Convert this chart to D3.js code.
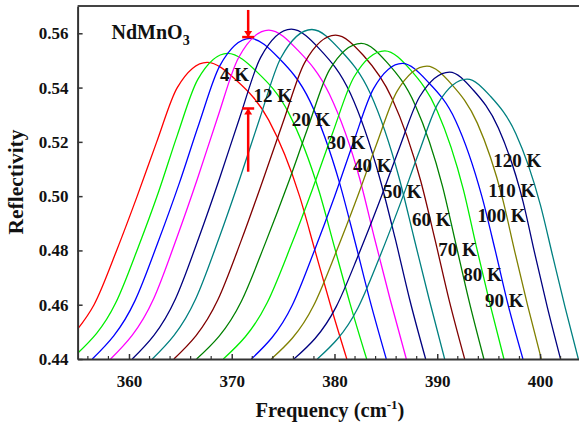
<!DOCTYPE html>
<html>
<head>
<meta charset="utf-8">
<script src="https://cdn.jsdelivr.net/npm/d3@7/dist/d3.min.js"></script>
<style>
  body { margin: 0; background: #fff; }
  svg { display: block; }
  text { font-family: "Liberation Serif", "Times New Roman", serif; font-weight: bold; fill: #111; }
</style>
</head>
<body>
<svg id="chart" width="579" height="427"></svg>
<script>
// temperature labels, one per curve
const temps = ['4 K', '12 K', '20 K', '30 K', '40 K', '50 K', '60 K', '70 K', '80 K', '90 K', '100 K', '110 K', '120 K'];

// [frequency (cm-1), reflectivity]
const s4K = [[355,0.451],[356.6,0.46],[358.8,0.48],[360.8,0.50],[362.7,0.52],[364.7,0.54],[367.6,0.5493],[370.5,0.5425],[373.6,0.528],[376.6,0.50],[378.1,0.48],[379.6,0.46],[381.2,0.44]];
const s12K = [[355,0.4421],[358.7,0.4606],[360.9,0.4812],[362.9,0.5018],[364.7,0.5224],[366.7,0.543],[369.6,0.5526],[372.5,0.5456],[375.55,0.5306],[378.5,0.5018],[380.0,0.4812],[381.5,0.4606],[383.13,0.44]];
const s20K = [[356.43,0.44],[360.6,0.4616],[362.84,0.4832],[364.9,0.5048],[366.8,0.5265],[368.85,0.5481],[371.8,0.5581],[374.6,0.5508],[377.6,0.5351],[380.5,0.5048],[382.0,0.4832],[383.45,0.4616],[385.04,0.44]];
const s30K = [[358.21,0.44],[362.4,0.4622],[364.63,0.4844],[366.67,0.5065],[368.6,0.5287],[370.65,0.5509],[373.6,0.5612],[376.45,0.5537],[379.5,0.5376],[382.45,0.5065],[383.9,0.4844],[385.4,0.4622],[386.99,0.44]];
const s40K = [[360.32,0.44],[364.53,0.4622],[366.78,0.4845],[368.83,0.5067],[370.77,0.5289],[372.83,0.5512],[375.8,0.5615],[378.6,0.554],[381.55,0.5378],[384.4,0.5067],[385.9,0.4845],[387.3,0.4622],[388.87,0.44]];
const s50K = [[362.27,0.44],[366.5,0.4622],[368.75,0.4844],[370.8,0.5066],[372.75,0.5289],[374.8,0.5511],[377.8,0.5614],[380.55,0.5539],[383.5,0.5377],[386.3,0.5066],[387.75,0.4844],[389.2,0.4622],[390.72,0.44]];
const s60K = [[364.37,0.44],[368.65,0.4618],[370.93,0.4837],[373.0,0.5055],[375.0,0.5273],[377.1,0.5492],[380.1,0.5593],[382.8,0.5519],[385.6,0.536],[388.4,0.5055],[389.8,0.4837],[391.15,0.4618],[392.67,0.44]];
const s70K = [[366.58,0.44],[370.94,0.4613],[373.26,0.4826],[375.4,0.5038],[377.4,0.5251],[379.5,0.5464],[382.6,0.5563],[385.15,0.5491],[387.85,0.5336],[390.5,0.5038],[391.8,0.4826],[393.1,0.4613],[394.54,0.44]];
const s80K = [[369.18,0.44],[373.46,0.4608],[375.74,0.4815],[377.83,0.5023],[379.8,0.5231],[381.9,0.5439],[384.9,0.5535],[387.4,0.5465],[390.0,0.5314],[392.55,0.5023],[393.8,0.4815],[395.1,0.4608],[396.49,0.44]];
const s90K = [[371.91,0.44],[375.9,0.4599],[378.04,0.4799],[380.0,0.4998],[381.83,0.5197],[383.8,0.5396],[386.6,0.5489],[389.1,0.5421],[391.8,0.5277],[394.35,0.4998],[395.65,0.4799],[396.9,0.4599],[398.34,0.44]];
const s100K = [[373.85,0.44],[377.97,0.4597],[380.17,0.4795],[382.18,0.4992],[384.08,0.519],[386.1,0.5387],[389.0,0.5479],[391.4,0.5412],[393.9,0.5269],[396.35,0.4992],[397.55,0.4795],[398.8,0.4597],[400.13,0.44]];
const s110K = [[376.05,0.44],[380.17,0.4593],[382.37,0.4787],[384.38,0.498],[386.28,0.5174],[388.3,0.5367],[391.2,0.5457],[393.5,0.5391],[395.95,0.5251],[398.35,0.498],[399.5,0.4787],[400.7,0.4593],[402.0,0.44]];
const s120K = [[378.33,0.44],[382.29,0.4589],[384.41,0.4777],[386.34,0.4966],[388.16,0.5155],[390.1,0.5343],[392.9,0.5431],[395.2,0.5367],[397.65,0.523],[400.05,0.4966],[401.25,0.4777],[402.45,0.4589],[403.73,0.44]];

// where each temperature label sits (data units)
const labelFreq = [368.86, 372.12, 375.84, 379.24, 381.8, 384.72, 387.54, 390.1, 392.54, 394.65, 393.92, 394.97, 395.46];
const labelRefl = [0.5424, 0.5347, 0.5258, 0.5173, 0.5089, 0.4993, 0.4890, 0.4780, 0.4687, 0.4593, 0.4905, 0.4998, 0.5108];

const xTicks = [360, 370, 380, 390, 400];
const xMinor = [356, 358, 362, 364, 366, 368, 372, 374, 376, 378, 382, 384, 386, 388, 392, 394, 396, 398, 402];
const yTicks = [0.44, 0.46, 0.48, 0.50, 0.52, 0.54, 0.56];

// red arrows marking the peak shift
const arrowFreq = 371.6;
const arrowDown = [0.5686, 0.5586];
const arrowUp = [0.509, 0.5323];

const series = [s4K, s12K, s20K, s30K, s40K, s50K, s60K, s70K, s80K, s90K, s100K, s110K, s120K];
const colors = ['#ff0000', '#00ee00', '#0000ff', '#ff00ff', '#000080', '#008080', '#800000',
                '#008000', '#00ee00', '#0000ff', '#808000', '#000080', '#008080'];

const svg = d3.select('#chart');
const margin = { top: 6, right: 0, bottom: 68, left: 77.6 };
const W = 579, H = 427;

const x = d3.scaleLinear().domain([355, 404]).range([77.6, 581.1]);
const y = d3.scaleLinear().domain([0.44, 0.57]).range([359, 6.15]);

svg.append('defs').append('clipPath').attr('id', 'plot')
  .append('rect').attr('x', 77.6).attr('y', 6).attr('width', W - 77.6).attr('height', 353);

// curves
const line = d3.line()
  .x(d => x(d[0]))
  .y(d => y(d[1]))
  .curve(d3.curveMonotoneX);

const curves = svg.append('g').attr('clip-path', 'url(#plot)');
series.forEach((s, i) => {
  curves.append('path')
    .datum(s)
    .attr('fill', 'none')
    .attr('stroke', colors[i])
    .attr('stroke-width', 1.3)
    .attr('d', line);
});

// top frame
svg.append('line')
  .attr('x1', 77.6).attr('x2', W).attr('y1', 6).attr('y2', 6)
  .attr('stroke', '#444').attr('stroke-width', 2);

// x axis
const xAxis = svg.append('g')
  .attr('transform', 'translate(0,359)')
  .call(d3.axisBottom(x).tickValues(xTicks).tickSize(-5).tickSizeOuter(0).tickPadding(16).tickFormat(d3.format('d')));
xAxis.select('.domain').attr('stroke', '#333').attr('stroke-width', 2);
xAxis.selectAll('.tick line').attr('stroke', '#333').attr('stroke-width', 1.5);
xAxis.selectAll('text').style('font-size', '17px').style('font-family', '"Liberation Serif", serif').style('font-weight', 'bold').attr('fill', '#111');

svg.append('g')
  .selectAll('line')
  .data(xMinor)
  .enter().append('line')
  .attr('x1', d => x(d)).attr('x2', d => x(d))
  .attr('y1', 359).attr('y2', 356)
  .attr('stroke', '#333').attr('stroke-width', 1.2);

// y axis
const yAxis = svg.append('g')
  .attr('transform', 'translate(77.6,0)')
  .call(d3.axisLeft(y).tickValues(yTicks).tickSize(-5).tickSizeOuter(0).tickPadding(9).tickFormat(d3.format('.2f')));
yAxis.select('.domain').attr('stroke', '#333').attr('stroke-width', 2);
yAxis.selectAll('.tick line').attr('stroke', '#333').attr('stroke-width', 1.5);
yAxis.selectAll('text').style('font-size', '17px').style('font-family', '"Liberation Serif", serif').style('font-weight', 'bold').attr('fill', '#111');

// axis titles
const xt = svg.append('text')
  .attr('x', 330).attr('y', 417)
  .attr('text-anchor', 'middle')
  .style('font-size', '20.5px');
xt.append('tspan').text('Frequency (cm');
xt.append('tspan').attr('dy', -8).style('font-size', '13px').text('-1');
xt.append('tspan').attr('dy', 8).text(')');

svg.append('text')
  .attr('transform', 'translate(23,182) rotate(-90)')
  .attr('text-anchor', 'middle')
  .style('font-size', '21.5px')
  .text('Reflectivity');

// compound name
const title = svg.append('text')
  .attr('x', 111.5).attr('y', 38.5)
  .style('font-size', '20px');
title.append('tspan').text('NdMnO');
title.append('tspan').attr('dy', 6).style('font-size', '14px').text('3');

// temperature labels
svg.append('g')
  .selectAll('text')
  .data(temps)
  .enter().append('text')
  .attr('x', (d, i) => x(labelFreq[i]))
  .attr('y', (d, i) => y(labelRefl[i]))
  .style('font-size', '19px')
  .text(d => d);

// arrows
const ax = x(arrowFreq);
const arrows = svg.append('g').attr('stroke', '#ff0000').attr('fill', '#ff0000');
arrows.append('line')
  .attr('x1', ax).attr('x2', ax).attr('y1', y(arrowDown[0])).attr('y2', y(arrowDown[1]))
  .attr('stroke-width', 2.5);
arrows.append('line')
  .attr('x1', ax - 6).attr('x2', ax + 6).attr('y1', y(arrowDown[1])).attr('y2', y(arrowDown[1]))
  .attr('stroke-width', 2.5);
arrows.append('path')
  .attr('stroke', 'none')
  .attr('d', `M${ax - 4},${y(arrowDown[1]) - 6}L${ax + 4},${y(arrowDown[1]) - 6}L${ax},${y(arrowDown[1])}Z`);

arrows.append('line')
  .attr('x1', ax).attr('x2', ax).attr('y1', y(arrowUp[0])).attr('y2', y(arrowUp[1]))
  .attr('stroke-width', 2.5);
arrows.append('line')
  .attr('x1', ax - 6).attr('x2', ax + 6).attr('y1', y(arrowUp[1])).attr('y2', y(arrowUp[1]))
  .attr('stroke-width', 2.5);
arrows.append('path')
  .attr('stroke', 'none')
  .attr('d', `M${ax - 4},${y(arrowUp[1]) + 6}L${ax + 4},${y(arrowUp[1]) + 6}L${ax},${y(arrowUp[1])}Z`);
</script>
</body>
</html>
